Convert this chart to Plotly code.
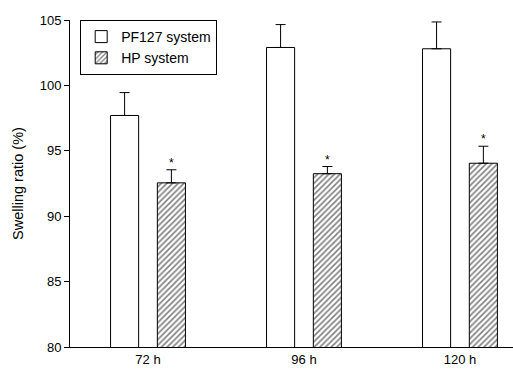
import plotly.graph_objects as go

categories = ["72 h", "96 h", "120 h"]
pf127_values = [97.7, 102.9, 102.8]
pf127_errors = [1.75, 1.75, 2.05]
hp_values = [92.55, 93.25, 94.05]
hp_errors = [1.0, 0.55, 1.3]
y_ticks = [80, 85, 90, 95, 100, 105]

xpos = list(range(len(categories)))
off = 0.15
bw = 0.18
font = "Liberation Sans, Arial, sans-serif"

fig = go.Figure()
fig.add_trace(go.Bar(
    x=[p - off for p in xpos], y=pf127_values, width=bw, name="PF127 system",
    marker=dict(color="white", line=dict(color="black", width=1)),
    error_y=dict(type="data", array=pf127_errors, arrayminus=[0]*3, symmetric=False,
                 color="black", thickness=1, width=5),
))
fig.add_trace(go.Bar(
    x=[p + off for p in xpos], y=hp_values, width=bw, name="HP system",
    marker=dict(color="white", line=dict(color="black", width=1),
                pattern=dict(shape="/", fgcolor="black", bgcolor="white", size=4, solidity=0.4)),
    error_y=dict(type="data", array=hp_errors, arrayminus=[0]*3, symmetric=False,
                 color="black", thickness=1, width=5),
))
fig.add_trace(go.Scatter(
    x=[p + off for p in xpos], y=[v + e for v, e in zip(hp_values, hp_errors)],
    mode="text", text=["*"]*3, textposition="top center",
    textfont=dict(family=font, size=12, color="black"), showlegend=False, hoverinfo="skip",
))

fig.update_layout(
    width=513, height=372,
    margin=dict(l=70, r=0, t=20, b=25),
    paper_bgcolor="white", plot_bgcolor="white",
    font=dict(family=font, size=13, color="black"),
    showlegend=True,
    legend=dict(x=0.023, y=1.0, xanchor="left", yanchor="top",
                bordercolor="black", borderwidth=1, bgcolor="white",
                font=dict(size=14), tracegroupgap=0),
    xaxis=dict(range=[-0.5, 2.34], tickmode="array", tickvals=xpos, ticktext=categories,
               showline=True, linecolor="black", linewidth=1, ticks="", showgrid=False,
               zeroline=False, tickfont=dict(size=13)),
    yaxis=dict(range=[80, 105], tickvals=y_ticks, showline=True, linecolor="black",
               linewidth=1, ticks="outside", ticklen=5, tickcolor="black", showgrid=False,
               zeroline=False, title=dict(text="Swelling ratio (%)", font=dict(size=14.5), standoff=12),
               tickfont=dict(size=13)),
)

fig.write_html("out.html")
